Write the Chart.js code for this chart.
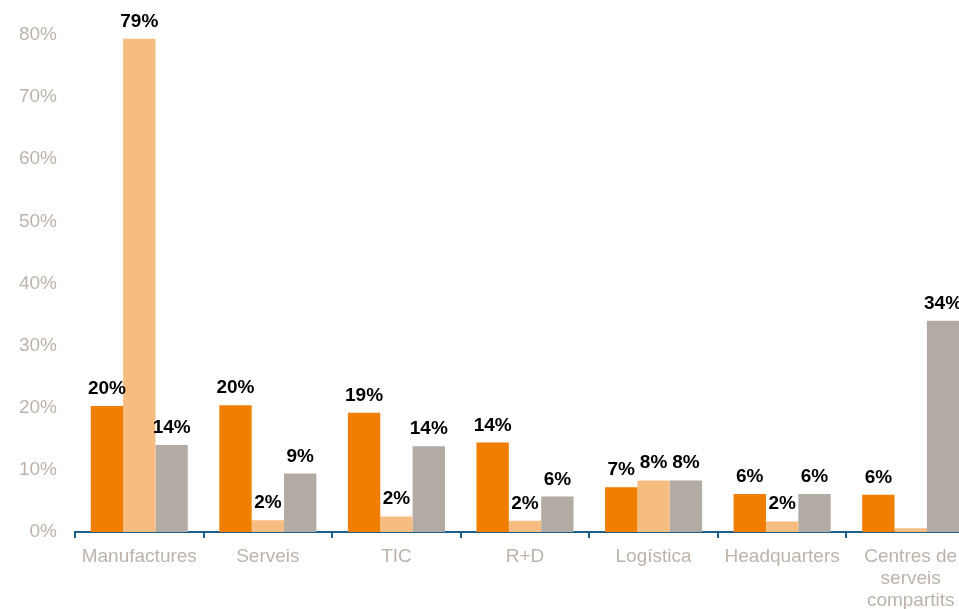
<!DOCTYPE html>
<html>
<head>
<meta charset="utf-8">
<script src="https://cdn.jsdelivr.net/npm/chart.js@4"></script>
<style>
  html, body { margin: 0; padding: 0; background: #fff; overflow: hidden; }
  #wrap { width: 980px; height: 609px; }
</style>
</head>
<body>
<div id="wrap"><canvas id="mainchart" width="980" height="609"></canvas></div>
<script>
const categories = [
  "Manufactures",
  "Serveis",
  "TIC",
  "R+D",
  "Logística",
  "Headquarters",
  ["Centres de", "serveis", "compartits"],
];
const seriesA = [20.3, 20.4, 19.2, 14.4, 7.2, 6.1, 6.0];
const seriesB = [79.4, 1.9, 2.5, 1.8, 8.3, 1.7, 0.6];
const seriesC = [14.0, 9.4, 13.8, 5.7, 8.3, 6.1, 34.0];
const labelsA = ["20%", "20%", "19%", "14%", "7%", "6%", "6%"];
const labelsB = ["79%", "2%", "2%", "2%", "8%", "2%", ""];
const labelsC = ["14%", "9%", "14%", "6%", "8%", "6%", "34%"];
const yTicks = [0, 10, 20, 30, 40, 50, 60, 70, 80];

const greyText = "#bcb4ab";
const axisBlue = "#1d5f8c";
const fontFamily = "'Liberation Sans', Arial, Helvetica, sans-serif";

// draws the percentage label above each bar
const barLabels = {
  id: "barLabels",
  afterDatasetsDraw(chart) {
    const ctx = chart.ctx;
    ctx.save();
    ctx.font = "bold 19px " + fontFamily;
    ctx.fillStyle = "#000";
    ctx.textAlign = "center";
    ctx.textBaseline = "alphabetic";
    chart.data.datasets.forEach((ds, i) => {
      chart.getDatasetMeta(i).data.forEach((bar, j) => {
        const txt = ds.valueLabels[j];
        if (txt) ctx.fillText(txt, bar.x, bar.y - 12);
      });
    });
    ctx.restore();
  },
};

const ctx = document.getElementById("mainchart").getContext("2d");
const mainchart = new Chart(ctx, {
  type: "bar",
  data: {
    labels: categories,
    datasets: [
      { data: seriesA, valueLabels: labelsA, backgroundColor: "#f07f00" },
      { data: seriesB, valueLabels: labelsB, backgroundColor: "#f7bd80" },
      { data: seriesC, valueLabels: labelsC, backgroundColor: "#b2aba3" },
    ],
  },
  options: {
    responsive: false,
    animation: false,
    devicePixelRatio: 1,
    layout: { padding: { top: 35, right: 5, left: 0, bottom: 0 } },
    datasets: { bar: { categoryPercentage: 0.755, barPercentage: 1 } },
    plugins: { legend: { display: false }, tooltip: { enabled: false } },
    scales: {
      x: {
        offset: true,
        grid: {
          offset: true,
          drawOnChartArea: false,
          drawTicks: true,
          tickLength: 6,
          color: axisBlue,
          lineWidth: 2,
        },
        border: { display: true, color: axisBlue, width: 2 },
        ticks: {
          color: greyText,
          font: { family: fontFamily, size: 19, lineHeight: 1.15 },
          padding: 8,
          maxRotation: 0,
          autoSkip: false,
        },
        afterFit: (scale) => {
          scale.height = 77;
        },
      },
      y: {
        min: 0,
        max: 80,
        afterBuildTicks: (scale) => {
          scale.ticks = yTicks.map((v) => ({ value: v }));
        },
        grid: { display: false },
        border: { display: false },
        ticks: {
          color: greyText,
          font: { family: fontFamily, size: 19 },
          padding: 10,
          callback: (v) => v + "%",
        },
        afterFit: (scale) => {
          scale.width = 75;
        },
      },
    },
  },
  plugins: [barLabels],
});
</script>
</body>
</html>
